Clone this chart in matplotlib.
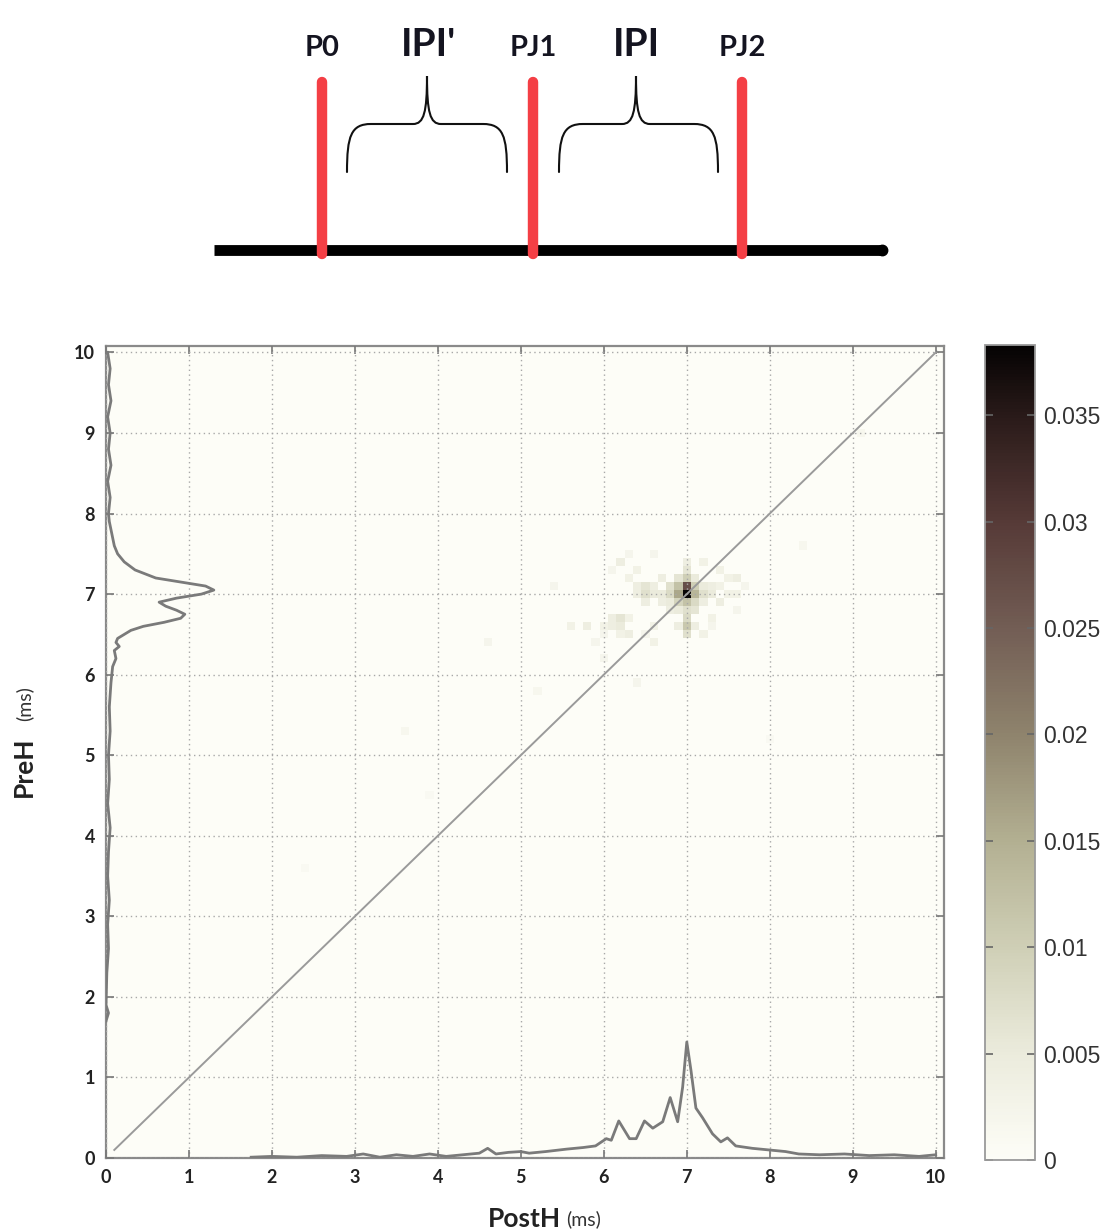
import numpy as np
import matplotlib
matplotlib.use("Agg")
import matplotlib.pyplot as plt
from matplotlib.colors import LinearSegmentedColormap
from matplotlib.path import Path
from matplotlib.patches import PathPatch

# ---------------- data ----------------
ticks = [0, 1, 2, 3, 4, 5, 6, 7, 8, 9, 10]
cbar_ticks = [0, 0.005, 0.01, 0.015, 0.02, 0.025, 0.03, 0.035]
cbar_labels = ["0", "0.005", "0.01", "0.015", "0.02", "0.025", "0.03", "0.035"]
vmax = 0.0383

# 2D histogram cells (PostH, PreH, density)
cell_x = [7.0, 7.0, 6.9, 7.1, 6.9, 7.1, 6.9, 7.0, 7.1, 7.0, 6.8, 6.8, 7.2, 7.3,
          7.0, 7.0, 7.0, 7.1, 6.5, 6.5, 6.6, 6.2, 6.2, 6.3, 6.2, 6.4, 6.0, 5.8,
          5.6, 5.4, 7.4, 7.6, 7.5, 7.4, 7.2, 6.6, 6.8, 6.7, 7.3, 6.0, 7.6,
          4.6, 3.6, 9.1, 5.2, 8.4, 6.4, 3.9, 2.4, 8.0,
          6.4, 6.4, 6.5, 6.6, 6.7, 6.7, 6.8, 7.2, 7.2, 7.3, 7.4, 7.5, 7.6, 7.7,
          6.9, 7.1, 7.0, 7.0, 6.9, 7.0, 6.9, 7.1, 6.1, 6.1, 6.2, 6.3, 6.0, 5.9,
          6.3, 6.1, 6.6, 6.5, 7.3, 7.2, 6.6, 6.3]
cell_y = [7.0, 7.1, 7.1, 7.1, 7.0, 7.0, 6.9, 6.9, 6.9, 7.2, 7.0, 7.1, 7.0, 7.0,
          6.7, 6.6, 6.5, 6.8, 7.0, 7.1, 7.0, 6.7, 6.6, 6.5, 7.4, 7.3, 6.6, 6.6,
          6.6, 7.1, 6.9, 7.2, 7.0, 7.3, 7.4, 6.4, 6.8, 7.2, 6.7, 6.2, 6.8,
          6.4, 5.3, 9.0, 5.8, 7.6, 5.9, 4.5, 3.6, 5.2,
          7.0, 7.1, 6.9, 7.1, 7.0, 6.9, 6.9, 7.1, 6.9, 7.1, 7.1, 7.2, 7.0, 7.1,
          7.2, 7.2, 7.3, 7.4, 6.8, 6.8, 6.6, 6.6, 6.7, 6.6, 6.5, 6.7, 6.5, 6.4,
          7.2, 7.3, 6.6, 6.5, 6.6, 6.5, 7.5, 7.5]
cell_v = [0.038, 0.027, 0.012, 0.010, 0.016, 0.014, 0.009, 0.012, 0.008, 0.010,
          0.008, 0.007, 0.007, 0.005, 0.008, 0.011, 0.007, 0.006, 0.007, 0.006,
          0.005, 0.006, 0.005, 0.004, 0.004, 0.003, 0.003, 0.004, 0.003, 0.002,
          0.004, 0.004, 0.003, 0.003, 0.003, 0.003, 0.004, 0.004, 0.003, 0.002,
          0.002, 0.002, 0.0015, 0.0015, 0.0015, 0.0015, 0.002, 0.001, 0.001, 0.001,
          0.004, 0.004, 0.004, 0.004, 0.005, 0.004, 0.005, 0.005, 0.004, 0.004,
          0.003, 0.003, 0.003, 0.002, 0.006, 0.005, 0.006, 0.004, 0.005, 0.007,
          0.004, 0.004, 0.004, 0.004, 0.003, 0.003, 0.002, 0.002, 0.003, 0.002,
          0.003, 0.002, 0.002, 0.003, 0.002, 0.002]

# marginal of PostH (drawn along the bottom)
post_x = [1.75, 2.0, 2.3, 2.6, 2.9, 3.1, 3.3, 3.5, 3.7, 3.9, 4.1, 4.3, 4.5, 4.6,
          4.7, 4.85, 5.0, 5.1, 5.3, 5.55, 5.75, 5.9, 6.03, 6.09, 6.18, 6.31,
          6.39, 6.49, 6.59, 6.71, 6.80, 6.89, 6.95, 7.0, 7.05, 7.11, 7.19,
          7.31, 7.41, 7.49, 7.59, 7.79, 7.99, 8.19, 8.35, 8.6, 8.9, 9.2, 9.5,
          9.8, 10.0]
post_y = [0.01, 0.02, 0.01, 0.03, 0.02, 0.05, 0.01, 0.04, 0.02, 0.05, 0.02,
          0.04, 0.06, 0.12, 0.05, 0.07, 0.08, 0.06, 0.08, 0.11, 0.13, 0.15,
          0.24, 0.22, 0.46, 0.24, 0.24, 0.46, 0.37, 0.45, 0.75, 0.45, 0.88,
          1.44, 1.09, 0.62, 0.50, 0.30, 0.20, 0.25, 0.15, 0.12, 0.10, 0.08,
          0.05, 0.04, 0.05, 0.03, 0.04, 0.02, 0.04]

# marginal of PreH (drawn along the left side)
pre_y = [1.7, 1.8, 1.9, 2.3, 2.6, 2.9, 3.2, 3.5, 3.8, 4.1, 4.4, 4.7, 5.0, 5.3,
         5.6, 5.9, 6.1, 6.2, 6.3, 6.35, 6.4, 6.45, 6.5, 6.55, 6.6, 6.65, 6.7,
         6.75, 6.8, 6.85, 6.9, 6.95, 7.0, 7.05, 7.1, 7.15, 7.2, 7.3, 7.4, 7.5,
         7.6, 7.7, 7.8, 7.9, 8.0, 8.2, 8.4, 8.6, 8.8, 9.0, 9.2, 9.4, 9.6, 9.8,
         10.0]
pre_x = [0.0, 0.03, 0.0, 0.01, 0.03, 0.02, 0.04, 0.02, 0.03, 0.05, 0.02, 0.04,
         0.03, 0.05, 0.04, 0.06, 0.08, 0.12, 0.10, 0.16, 0.12, 0.14, 0.22, 0.30,
         0.45, 0.70, 0.90, 0.95, 0.85, 0.72, 0.64, 0.85, 1.15, 1.30, 1.20, 0.90,
         0.60, 0.35, 0.22, 0.14, 0.10, 0.08, 0.06, 0.04, 0.03, 0.05, 0.02, 0.06,
         0.03, 0.05, 0.02, 0.06, 0.03, 0.05, 0.02]

# schematic labels
diag_labels = ["P0", "PJ1", "PJ2"]
brace_labels = ["IPI'", "IPI"]

# ---------------- figure ----------------
W, H = 1107, 1232
fig = plt.figure(figsize=(W / 100, H / 100), dpi=100)
fig.patch.set_facecolor("white")

cond = ["Lato", "DejaVu Sans"]

# ---- top schematic (pixel coordinates) ----
axd = fig.add_axes([0, 1 - 290 / H, 1, 290 / H])
axd.set_xlim(0, W)
axd.set_ylim(290, 0)
axd.axis("off")
axd.plot([214, 882], [250, 250], color="black", lw=7.8, solid_capstyle="butt")
axd.plot([882], [250], marker="o", ms=7.5, color="black")
red = "#f43f45"
pulse_x = [322, 533, 742]
for px in pulse_x:
    axd.plot([px, px], [82, 254], color=red, lw=7.5, solid_capstyle="round", zorder=3)
for px, lab in zip(pulse_x, diag_labels):
    axd.text(px, 48, lab, ha="center", va="center", fontsize=21,
             fontweight="bold", family=cond, color="#141420")


def brace(xl, xr, xm, y_end=172, y_h=124, y_tip=76):
    verts = [(xl, y_end), (xl, y_h + 12), (xl + 4, y_h), (xl + 24, y_h),
             (xm - 14, y_h),
             (xm - 3, y_h), (xm, y_h - 12), (xm, y_tip),
             (xm, y_h - 12), (xm + 3, y_h), (xm + 14, y_h),
             (xr - 24, y_h),
             (xr - 4, y_h), (xr, y_h + 12), (xr, y_end)]
    codes = [Path.MOVETO, Path.CURVE4, Path.CURVE4, Path.CURVE4,
             Path.LINETO,
             Path.CURVE4, Path.CURVE4, Path.CURVE4,
             Path.CURVE4, Path.CURVE4, Path.CURVE4,
             Path.LINETO,
             Path.CURVE4, Path.CURVE4, Path.CURVE4]
    axd.add_patch(PathPatch(Path(verts, codes), fill=False, lw=1.5,
                            edgecolor="#111111", capstyle="round"))


brace(347, 507, 427)
brace(559, 718, 636)
axd.text(401, 44, brace_labels[0], ha="left", va="center", fontsize=28,
         fontweight="bold", family=cond, color="#141420")
axd.text(636, 44, brace_labels[1], ha="center", va="center", fontsize=28,
         fontweight="bold", family=cond, color="#141420")

# ---- heatmap ----
cmap = LinearSegmentedColormap.from_list("gb", [
    (0.0, "#fdfdf7"), (0.13, "#ebebdc"), (0.26, "#cfcfb6"), (0.39, "#b3b092"),
    (0.52, "#8f846d"), (0.65, "#735e55"), (0.78, "#573b38"), (0.91, "#2b1b1a"),
    (1.0, "#050303")])

grid = np.zeros((101, 101))
for cx, cy, cv in zip(cell_x, cell_y, cell_v):
    grid[int(round(cy * 10)), int(round(cx * 10))] = cv

ax = fig.add_axes([106 / W, 1 - 1158 / H, (944 - 106) / W, (1158 - 346) / H])
ax.set_facecolor("#fdfdf7")
im = ax.imshow(grid, extent=(-0.05, 10.05, -0.05, 10.05), origin="lower",
               cmap=cmap, vmin=0, vmax=vmax, interpolation="nearest",
               aspect="auto", zorder=0)
ax.set_xlim(0, 10.1)
ax.set_ylim(0, 10.08)
ax.set_xticks(ticks)
ax.set_yticks(ticks)
ax.set_xticklabels([str(t) for t in ticks], fontsize=13, fontweight="bold",
                   family=cond, color="#222222")
ax.set_yticklabels([str(t) for t in ticks], fontsize=13, fontweight="bold",
                   family=cond, color="#222222")
ax.tick_params(direction="in", length=6, width=1.2, color="#777777",
               top=True, right=True, pad=8)
ax.grid(True, linestyle=(0, (1, 2.5)), color="#a8a8a8", lw=1.0)
ax.set_axisbelow(False)
for s in ax.spines.values():
    s.set_color("#8a8a8a")
    s.set_linewidth(1.6)

ax.plot([0.1, 10.0], [0.1, 10.0], color="#9a9a9a", lw=1.4, zorder=3)
ax.plot(post_x, post_y, color="#7a7a7a", lw=2.0, zorder=4)
ax.plot(pre_x, pre_y, color="#7a7a7a", lw=2.0, zorder=4)

fig.text(561 / W, 1 - 1219 / H, "PostH", ha="right", va="center", fontsize=19,
         fontweight="bold", family=cond, color="#222222")
fig.text(566 / W, 1 - 1219 / H, "(ms)", ha="left", va="center", fontsize=14,
         family=cond, color="#333333")
fig.text(24 / W, 1 - 767 / H, "PreH", ha="center", va="center", fontsize=19,
         fontweight="bold", family=cond, color="#222222", rotation=90)
fig.text(24 / W, 1 - 704 / H, "(ms)", ha="center", va="center", fontsize=14,
         family=cond, color="#333333", rotation=90)

# ---- colorbar ----
cax = fig.add_axes([985 / W, 1 - 1160 / H, 50 / W, (1160 - 345) / H])
cb = fig.colorbar(im, cax=cax)
cb.set_ticks(cbar_ticks)
cb.set_ticklabels(cbar_labels)
cax.tick_params(direction="in", left=True, right=True, length=6, width=1.2,
                color="#666666", labelsize=16.5, labelcolor="#333333", pad=6)
for lab in cax.get_yticklabels():
    lab.set_family("Liberation Sans")
cb.outline.set_edgecolor("#9a9a9a")
cb.outline.set_linewidth(1.3)

fig.savefig("out.png", dpi=100)
